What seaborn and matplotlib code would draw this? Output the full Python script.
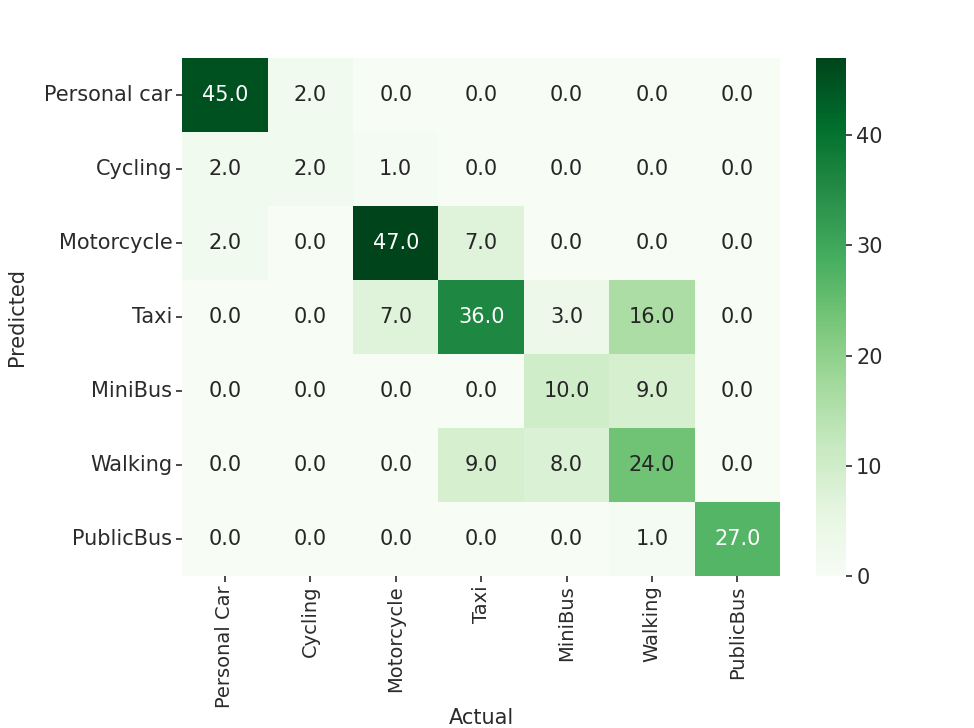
import numpy as np
import pandas as pd
import matplotlib
matplotlib.use("Agg")
import matplotlib.pyplot as plt
import seaborn as sns

predicted_labels = ["Personal car", "Cycling", "Motorcycle", "Taxi", "MiniBus", "Walking", "PublicBus"]
actual_labels = ["Personal Car", "Cycling", "Motorcycle", "Taxi", "MiniBus", "Walking", "PublicBus"]

row_personal_car = [45, 2, 0, 0, 0, 0, 0]
row_cycling = [2, 2, 1, 0, 0, 0, 0]
row_motorcycle = [2, 0, 47, 7, 0, 0, 0]
row_taxi = [0, 0, 7, 36, 3, 16, 0]
row_minibus = [0, 0, 0, 0, 10, 9, 0]
row_walking = [0, 0, 0, 9, 8, 24, 0]
row_publicbus = [0, 0, 0, 0, 0, 1, 27]

cm = pd.DataFrame(
    [row_personal_car, row_cycling, row_motorcycle, row_taxi,
     row_minibus, row_walking, row_publicbus],
    index=predicted_labels, columns=actual_labels, dtype=float,
)

text_color = "#2b2b2b"
plt.rcParams["font.family"] = ["DejaVu Sans"]
plt.rcParams["text.color"] = text_color
plt.rcParams["axes.labelcolor"] = text_color
plt.rcParams["xtick.color"] = text_color
plt.rcParams["ytick.color"] = text_color

fig = plt.figure(figsize=(9.74, 7.28), dpi=100)
ax = fig.add_axes([0.187, 0.209, 0.614, 0.711])
cax = fig.add_axes([0.838, 0.209, 0.031, 0.711])

sns.heatmap(cm, annot=True, fmt=".1f", cmap="Greens", ax=ax, cbar_ax=cax,
            annot_kws={"fontsize": 15})

ax.set_xlabel("Actual", fontsize=15)
ax.set_ylabel("Predicted", fontsize=15)
ax.tick_params(axis="x", labelsize=14, length=4, width=1.2, pad=3)
ax.tick_params(axis="y", labelsize=15, length=4, width=1.2, pad=3)
ax.set_xticklabels(actual_labels, rotation=90)
ax.set_yticklabels(predicted_labels, rotation=0)
ax.xaxis.set_label_coords(0.5, -0.255)
ax.yaxis.set_label_coords(-0.26, 0.5)
cax.tick_params(labelsize=15, length=4, width=1.2, pad=3)
for side in cax.spines.values():
    side.set_visible(False)

fig.savefig("out.png", dpi=100)
